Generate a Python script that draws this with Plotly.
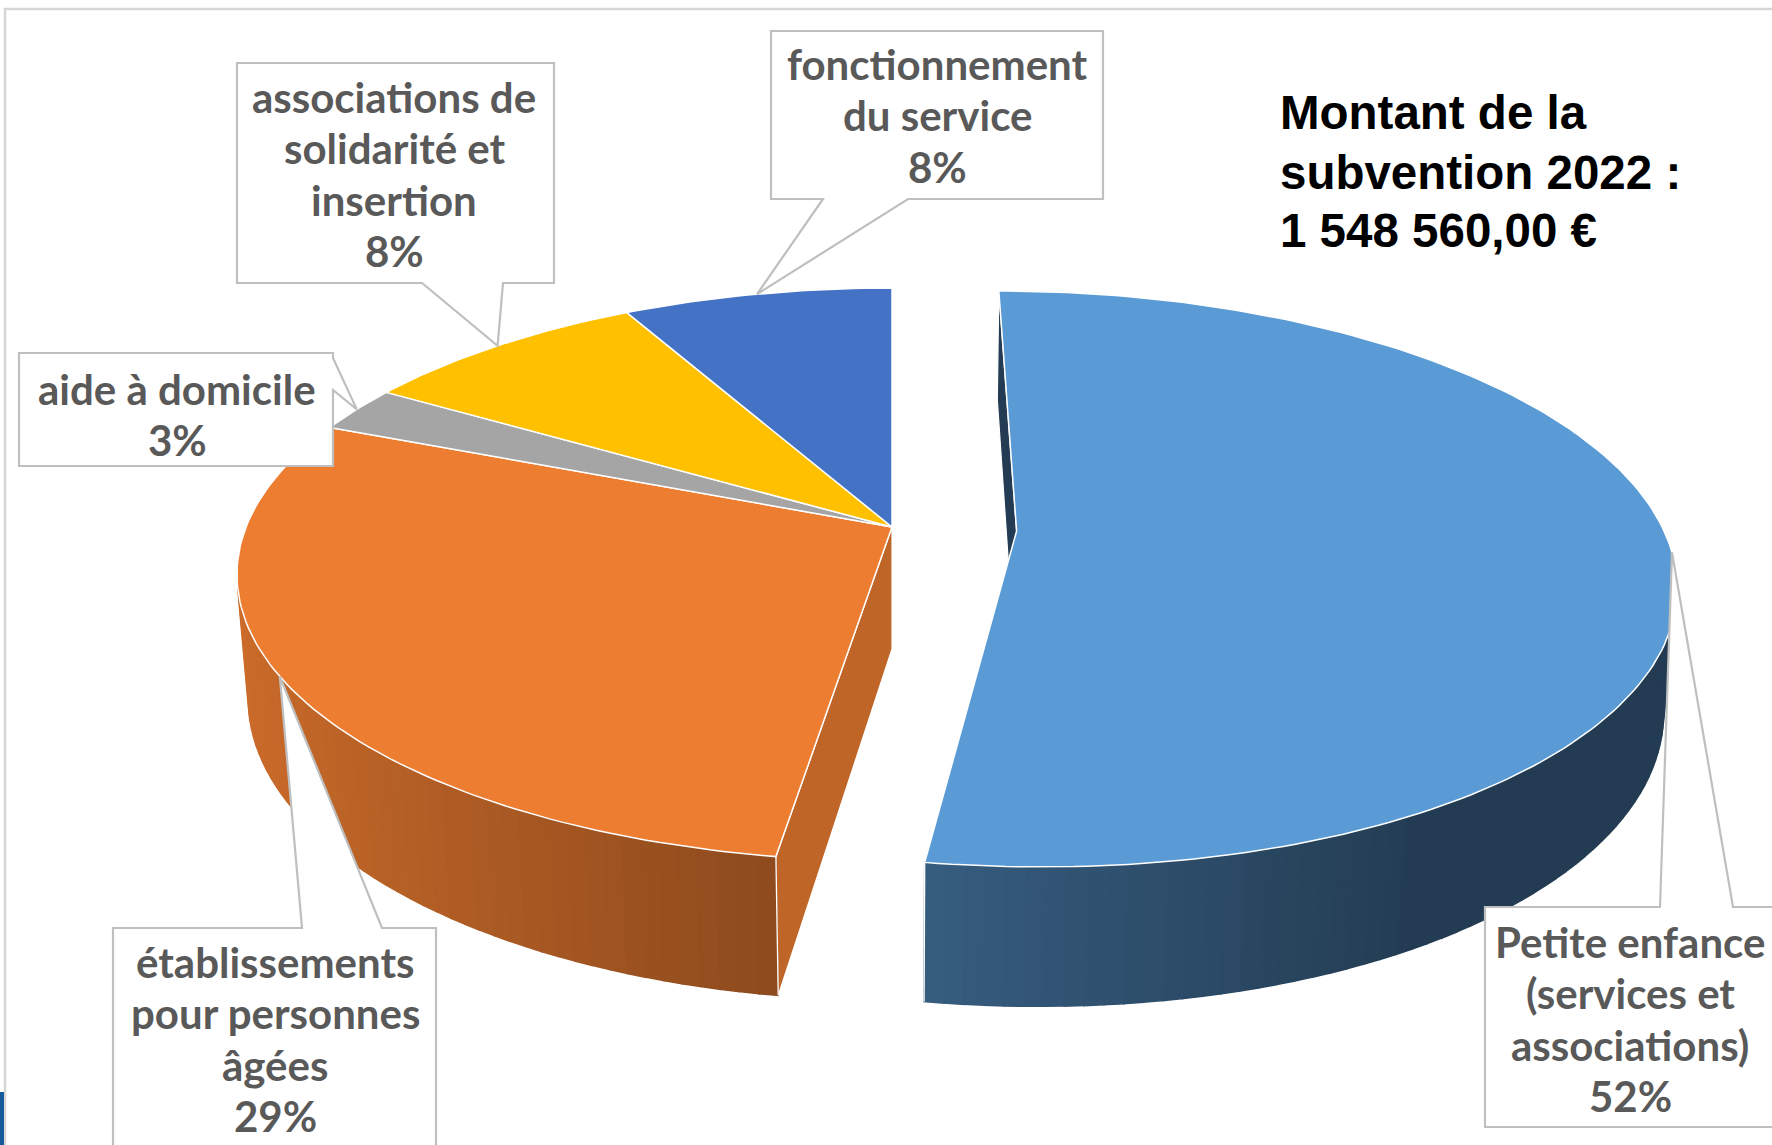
import math
import numpy as np
import plotly.graph_objects as go

# ---------------- data ----------------
categories = [
    "Petite enfance (services et associations)",
    "établissements pour personnes âgées",
    "aide à domicile",
    "associations de solidarité et insertion",
    "fonctionnement du service",
]
label_lines = [
    ["Petite enfance", "(services et", "associations)"],
    ["établissements", "pour personnes", "âgées"],
    ["aide à domicile"],
    ["associations de", "solidarité et", "insertion"],
    ["fonctionnement", "du service"],
]
shares = [52.4, 28.8, 2.6, 8.4, 7.8]          # % of the subsidy
pull = [0.193, 0.0, 0.0, 0.0, 0.0]            # exploded slice
colors = ["#5B9BD5", "#ED7D31", "#A5A5A5", "#FFC000", "#4472C4"]
title_lines = ["Montant de la", "subvention 2022 :", "1 548 560,00 €"]

# ---------------- 3D pie geometry (pixel space) ----------------
W, HGT = 1772, 1145
CX, CY = 892.0, 527.0
FOC = 3510.0
DIST = 5.434
SIN_A = 0.4314
COS_A = math.sqrt(1 - SIN_A ** 2)
DEPTH = 0.2128


def proj(u, v, z):
    Y = v * SIN_A + z * COS_A
    Z = DIST + v * COS_A - z * SIN_A
    return CX + FOC * u / Z, CY - FOC * Y / Z, Z


def shade(hexcol, f):
    h = hexcol.lstrip("#")
    r, g, b = (int(h[i:i + 2], 16) for i in (0, 2, 4))
    return "rgb(%d,%d,%d)" % (round(r * f), round(g * f), round(b * f))


def wall_factor(u):
    return min(0.88, max(0.39, 0.61 - 0.32 * (u + 0.19)))


vals = np.array(shares, dtype=float)
frac = vals / vals.sum()
ends = np.cumsum(frac) * 2 * math.pi
starts = ends - frac * 2 * math.pi
n = len(vals)

fig = go.Figure()
pieces = []      # (depth, xs, ys, color, is_face)
edges = []       # white vertical edges

slice_info = []
for i in range(n):
    ts, te = starts[i], ends[i]
    tm = (ts + te) / 2
    ox, oy = pull[i] * math.sin(tm), pull[i] * math.cos(tm)
    slice_info.append((ts, te, tm, ox, oy))

    # outer wall, split into segments (only the part facing the viewer)
    nseg = max(4, int(math.degrees(te - ts) / 1.5))
    tt = np.linspace(ts, te, nseg + 1)
    vis_flags = []
    for j in range(nseg):
        t0, t1 = tt[j], tt[j + 1]
        tmid = (t0 + t1) / 2
        u, v = math.sin(tmid), math.cos(tmid)
        vis = (-1 - u * ox - v * oy - v * DIST * COS_A) > 0
        vis_flags.append(vis)
        if not vis:
            continue
        p = [proj(ox + math.sin(t0), oy + math.cos(t0), 0),
             proj(ox + math.sin(t1), oy + math.cos(t1), 0),
             proj(ox + math.sin(t1), oy + math.cos(t1), -DEPTH),
             proj(ox + math.sin(t0), oy + math.cos(t0), -DEPTH)]
        depth = proj(ox + u, oy + v, -DEPTH / 2)[2]
        pieces.append((depth, [q[0] for q in p], [q[1] for q in p],
                       shade(colors[i], wall_factor(u)), False))
    for flag_idx, t in ((0, ts), (-1, te)):
        if vis_flags and vis_flags[flag_idx]:
            a = proj(ox + math.sin(t), oy + math.cos(t), 0)
            b = proj(ox + math.sin(t), oy + math.cos(t), -DEPTH)
            edges.append(([a[0], b[0]], [a[1], b[1]]))

# radial (cut) faces bordering the gap of the exploded slice
for i in range(n):
    ts, te, tm, ox, oy = slice_info[i]
    for side in ("start", "end"):
        nb = (i - 1) % n if side == "start" else (i + 1) % n
        if pull[nb] == pull[i]:
            continue
        t = ts if side == "start" else te
        nx, ny = ((-math.cos(t), math.sin(t)) if side == "start"
                  else (math.cos(t), -math.sin(t)))
        vis = nx * (0 - ox) + ny * (-DIST * COS_A - oy)
        if vis <= 1e-9:
            continue
        p = [proj(ox, oy, 0),
             proj(ox + math.sin(t), oy + math.cos(t), 0),
             proj(ox + math.sin(t), oy + math.cos(t), -DEPTH),
             proj(ox, oy, -DEPTH)]
        depth = sum(q[2] for q in p) / 4
        fac = 0.81 if nx > 0 else 0.39
        pieces.append((depth, [q[0] for q in p], [q[1] for q in p],
                       shade(colors[i], fac), True))

pieces.sort(key=lambda r: -r[0])
for dp, xs, ys, col, is_face in pieces:
    fig.add_trace(go.Scatter(
        x=xs + [xs[0]], y=ys + [ys[0]], mode="lines",
        fill="toself", fillcolor=col,
        line=dict(color="white" if is_face else col, width=1.2 if is_face else 1.5),
        hoverinfo="skip", showlegend=False))

for ex, ey in edges:
    fig.add_trace(go.Scatter(x=ex, y=ey, mode="lines",
                             line=dict(color="white", width=1.3),
                             hoverinfo="skip", showlegend=False))

# top faces
for i in range(n):
    ts, te, tm, ox, oy = slice_info[i]
    tt = np.linspace(ts, te, max(8, int(math.degrees(te - ts))) + 1)
    a = proj(ox, oy, 0)
    xs, ys = [a[0]], [a[1]]
    for t in tt:
        q = proj(ox + math.sin(t), oy + math.cos(t), 0)
        xs.append(q[0]); ys.append(q[1])
    xs.append(a[0]); ys.append(a[1])
    fig.add_trace(go.Scatter(
        x=xs, y=ys, mode="lines", fill="toself", fillcolor=colors[i],
        line=dict(color="white", width=1.5), name=categories[i],
        hovertemplate=categories[i] + ": %{text}<extra></extra>",
        text=["%d%%" % round(frac[i] * 100)] * len(xs),
        showlegend=False))

# ---------------- data labels (callout boxes) ----------------
# box: x0, y0, x1, y1, pointer side, base1, base2, text centre x, first baseline
label_boxes = [
    (1485, 907, 1795, 1127, "top", 1660, 1733, 1630, 955),
    (113, 928, 436, 1170, "top", 302, 382, 275, 975),
    (19, 353, 333, 466, "right", 358, 390, 177, 402),
    (237, 63, 554, 283, "bottom", 422, 503, 394, 110),
    (771, 31, 1103, 199, "bottom", 823, 908, 937, 77),
]
LABEL_SIZE = 42
LABEL_STEP = 51.5
shapes = []
annotations = []
for i in range(n):
    ts, te, tm, ox, oy = slice_info[i]
    tip = proj(ox + math.sin(tm), oy + math.cos(tm), 0)
    tx, ty = tip[0], tip[1]
    x0, y0, x1, y1, side, b1, b2, cxl, base = label_boxes[i]
    if side == "top":
        pts = [(x0, y0), (b1, y0), (tx, ty), (b2, y0), (x1, y0), (x1, y1), (x0, y1)]
    elif side == "bottom":
        pts = [(x0, y0), (x1, y0), (x1, y1), (b2, y1), (tx, ty), (b1, y1), (x0, y1)]
    else:
        pts = [(x0, y0), (x1, y0), (x1, b1), (tx, ty), (x1, b2), (x1, y1), (x0, y1)]
    path = "M " + " L ".join("%.1f,%.1f" % p for p in pts) + " Z"
    shapes.append(dict(type="path", path=path, xref="x", yref="y",
                       fillcolor="white", line=dict(color="#BFBFBF", width=2.2),
                       layer="above"))
    lines = label_lines[i] + ["%d%%" % round(frac[i] * 100)]
    for k, txt in enumerate(lines):
        annotations.append(dict(
            x=cxl, y=base + k * LABEL_STEP - 0.387 * LABEL_SIZE + 3,
            xref="x", yref="y", xanchor="center", yanchor="middle",
            text=txt, showarrow=False, align="center",
            font=dict(family="Lato", size=LABEL_SIZE, color="#595959", weight=700)))

TITLE_SIZE = 47.5
for k, (txt, base) in enumerate(zip(title_lines, [127, 187, 245])):
    annotations.append(dict(
        x=1278, y=base - 0.3465 * TITLE_SIZE + 2, xref="x", yref="y",
        xanchor="left", yanchor="middle",
        text=txt, showarrow=False, align="left",
        font=dict(family="Liberation Sans, Arial", size=TITLE_SIZE,
                  color="black", weight=700)))

# outer frame and slide fragment
shapes.append(dict(type="rect", xref="x", yref="y", x0=5, y0=9, x1=1800, y1=1180,
                   line=dict(color="#D6D6D6", width=2.5), fillcolor="rgba(0,0,0,0)",
                   layer="below"))
shapes.append(dict(type="rect", xref="x", yref="y", x0=-2, y0=1092, x1=4, y1=1150,
                   line=dict(width=0), fillcolor="#175A9C", layer="above"))

fig.update_layout(
    width=W, height=HGT, autosize=False,
    margin=dict(l=0, r=0, t=0, b=0),
    paper_bgcolor="white", plot_bgcolor="white",
    xaxis=dict(range=[0, W], visible=False, fixedrange=True),
    yaxis=dict(range=[HGT, 0], visible=False, fixedrange=True),
    shapes=shapes, annotations=annotations, showlegend=False,
)

fig.write_html("out.html", config={"displayModeBar": False},
               post_script="document.body.style.margin='0';document.body.style.overflow='hidden';")
